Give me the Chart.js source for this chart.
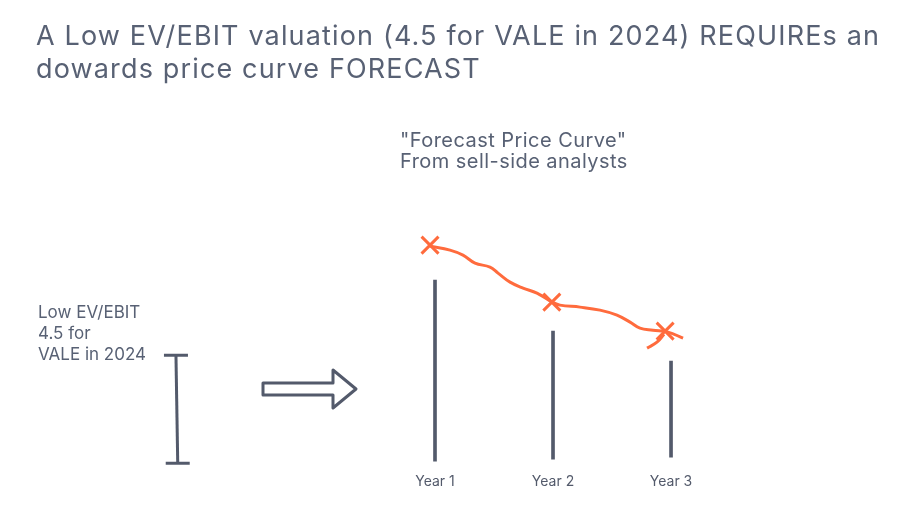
<!DOCTYPE html>
<html>
<head>
<meta charset="utf-8">
<script src="https://cdn.jsdelivr.net/npm/chart.js@4/dist/chart.umd.min.js"></script>
<style>
  html, body { margin: 0; padding: 0; background: #fff; }
  #wrap { position: relative; width: 908px; height: 528px; overflow: hidden; font-family: Inter, "Noto Sans", sans-serif; color: #586174; }
  #chart { position: absolute; left: 0; top: 0; }
  .note { position: absolute; white-space: nowrap; }
  #title { left: 36px; top: 18.5px; font-size: 27px; line-height: 33px; letter-spacing: 1.15px; }
  #sub { left: 400px; top: 129.5px; font-size: 20px; line-height: 21px; letter-spacing: 0.45px; }
  #side { left: 38px; top: 302.3px; font-size: 17px; line-height: 21px; }
</style>
</head>
<body>
<div id="wrap">
  <canvas id="chart" width="908" height="528"></canvas>
  <div class="note" id="title">A Low EV/EBIT valuation (4.5 for VALE in 2024) REQUIREs an<br>dowards price curve FORECAST</div>
  <div class="note" id="sub">"Forecast Price Curve"<br>From sell-side analysts</div>
  <div class="note" id="side">Low EV/EBIT<br>4.5 for<br>VALE in 2024</div>
</div>
<script>
// years on the x axis
const years = [1, 2, 3];
const yearLabels = ["Year 1", "Year 2", "Year 3"];

// current price bars (bottom / top), arbitrary price units
const barBottoms = [-0.05, 0.05, 0.15];
const barTops = [9.0, 6.45, 4.95];

// low EV/EBIT valuation range marker, drawn left of the bars
const valuationX = [-1.195, -1.18];
const valuationRange = [5.25, -0.15];

// forecast price points (the crosses)
const forecastX = [0.958, 1.99, 2.95];
const forecastY = [10.75, 7.9, 6.45];

// hand-drawn forecast curve through the crosses
const curveX = [0.958, 1.127, 1.237, 1.339, 1.466, 1.534, 1.636, 1.746, 1.864, 1.992,
  2.059, 2.229, 2.398, 2.542, 2.653, 2.737, 2.847, 2.975, 3.102];
const curveY = [10.7, 10.5, 10.25, 9.85, 9.65, 9.35, 8.9, 8.6, 8.35, 7.9,
  7.75, 7.65, 7.5, 7.25, 6.9, 6.6, 6.5, 6.4, 6.1];

// small stray stroke under the last cross
const hookX = [2.941, 2.881, 2.797];
const hookY = [6.3, 5.9, 5.6];

const slate = "#535a6b";
const orange = "#ff6b3d";

const zip = (xs, ys) => xs.map((x, i) => ({ x: x, y: ys[i] }));

// outline arrow between the valuation marker and the bars
const arrowPlugin = {
  id: "arrow",
  afterDatasetsDraw(chart) {
    const ctx = chart.ctx;
    ctx.save();
    ctx.strokeStyle = slate;
    ctx.lineWidth = 3;
    ctx.lineJoin = "round";
    ctx.beginPath();
    ctx.moveTo(263, 383);
    ctx.lineTo(333, 383);
    ctx.lineTo(333, 370);
    ctx.lineTo(356, 389);
    ctx.lineTo(333, 408);
    ctx.lineTo(333, 395);
    ctx.lineTo(263, 395);
    ctx.closePath();
    ctx.stroke();
    ctx.restore();
  },
};

new Chart(document.getElementById("chart").getContext("2d"), {
  type: "bar",
  data: {
    datasets: [
      {
        type: "bar",
        label: "Price",
        data: years.map((x, i) => ({ x: x, y: [barBottoms[i], barTops[i]] })),
        backgroundColor: slate,
        barThickness: 3,
        borderWidth: 0,
      },
      {
        type: "line",
        label: "EV/EBIT",
        data: zip(valuationX, valuationRange),
        borderColor: slate,
        borderWidth: 3,
        pointStyle: "line",
        pointRadius: 12,
        pointBorderWidth: 3,
        pointBorderColor: slate,
      },
      {
        type: "line",
        label: "Forecast curve",
        data: zip(curveX, curveY),
        borderColor: orange,
        borderWidth: 3,
        tension: 0.4,
        pointRadius: 0,
      },
      {
        type: "line",
        label: "Hook",
        data: zip(hookX, hookY),
        borderColor: orange,
        borderWidth: 3,
        tension: 0.4,
        pointRadius: 0,
      },
      {
        type: "scatter",
        label: "Forecast",
        data: zip(forecastX, forecastY),
        pointStyle: "crossRot",
        pointRadius: 12,
        pointBorderWidth: 3,
        borderColor: orange,
        backgroundColor: orange,
      },
    ],
  },
  options: {
    responsive: false,
    animation: false,
    layout: { autoPadding: false, padding: { left: 0, right: 0, top: 0, bottom: 35 } },
    plugins: {
      legend: { display: false },
      tooltip: { enabled: false },
    },
    scales: {
      x: {
        type: "linear",
        offset: false,
        min: -2.686,
        max: 5.008,
        grid: { display: false, drawTicks: false },
        border: { display: false },
        afterBuildTicks: (axis) => {
          axis.ticks = years.map((v) => ({ value: v }));
        },
        ticks: {
          padding: 3,
          color: slate,
          font: { family: "Inter", size: 14 },
          callback: (v) => yearLabels[years.indexOf(v)],
        },
      },
      y: {
        display: false,
        min: -0.5,
        max: 23,
      },
    },
  },
  plugins: [arrowPlugin],
});
</script>
</body>
</html>
